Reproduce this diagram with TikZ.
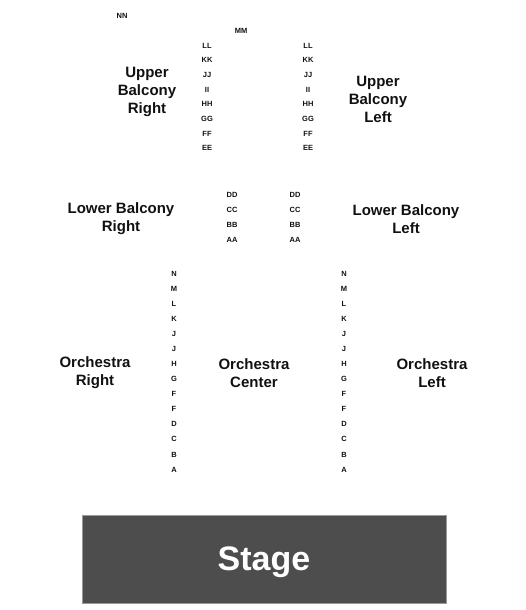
\documentclass[tikz,border=0pt]{standalone}
\usepackage{fontspec}
\setmainfont{Liberation Sans}
\usetikzlibrary{positioning}
\definecolor{stagefill}{HTML}{4D4D4D}
\definecolor{stageline}{HTML}{9A9A9A}
\definecolor{inkblack}{HTML}{111111}

\begin{document}
\begin{tikzpicture}[
  x=1pt, y=-1pt,
  font=\bfseries,
  sect/.style  = {font=\fontsize{15}{18}\selectfont\bfseries, text=inkblack, align=center, inner sep=0pt},
  row/.style   = {font=\fontsize{7.5}{8}\selectfont\bfseries, text=inkblack, inner sep=0pt},
  stagebox/.style = {draw=stageline, line width=0.6pt, fill=stagefill, minimum width=364pt,
                 minimum height=88pt, text=white, font=\fontsize{34}{36}\selectfont\bfseries,
                 text depth=0pt, inner sep=0pt},
]
\useasboundingbox (0,0) rectangle (525,610);

% --- upper balcony -------------------------------------------------------------------------------
\node[row] (nn) at (122,15.5) {NN};
\node[row] (mm) at (241,30.5) {MM};
\foreach \r [count=\i from 0] in {LL,KK,JJ,II,HH,GG,FF,EE} {
  \node[row] (ubr-\i) at (207,{45.5+14.7*\i}) {\r};
  \node[row] (ubl-\i) at (308,{45.5+14.7*\i}) {\r};
}
\node[sect] (upperR) at (147,92) {Upper\\Balcony\\Right};
\node[sect] (upperL) at (378,99) {Upper\\Balcony\\Left};

% --- lower balcony -------------------------------------------------------------------------------
\foreach \r [count=\i from 0] in {DD,CC,BB,AA} {
  \node[row] (lbr-\i) at (232,{194.5+15.2*\i}) {\r};
  \node[row] (lbl-\i) at (295,{194.5+15.2*\i}) {\r};
}
\node[sect] (lowerR) at (121,219) {Lower Balcony\\Right};
\node[sect] (lowerL) at (406,219) {Lower Balcony\\Left};

% --- orchestra -----------------------------------------------------------------------------------
\foreach \r [count=\i from 0] in {N,M,L,K,J,J,H,G,F,F,D,C,B,A} {
  \node[row] (orr-\i) at (174,{273.5+15.08*\i}) {\r};
  \node[row] (orl-\i) at (344,{273.5+15.08*\i}) {\r};
}
\node[sect] (orchR) at (95,373)  {Orchestra\\Right};
\node[sect] (orchC) at (254,373) {Orchestra\\Center};
\node[sect] (orchL) at (432,373) {Orchestra\\Left};

% --- stage ---------------------------------------------------------------------------------------
\node[stagebox] (stage) at (264,559) {Stage};

\end{tikzpicture}
\end{document}
